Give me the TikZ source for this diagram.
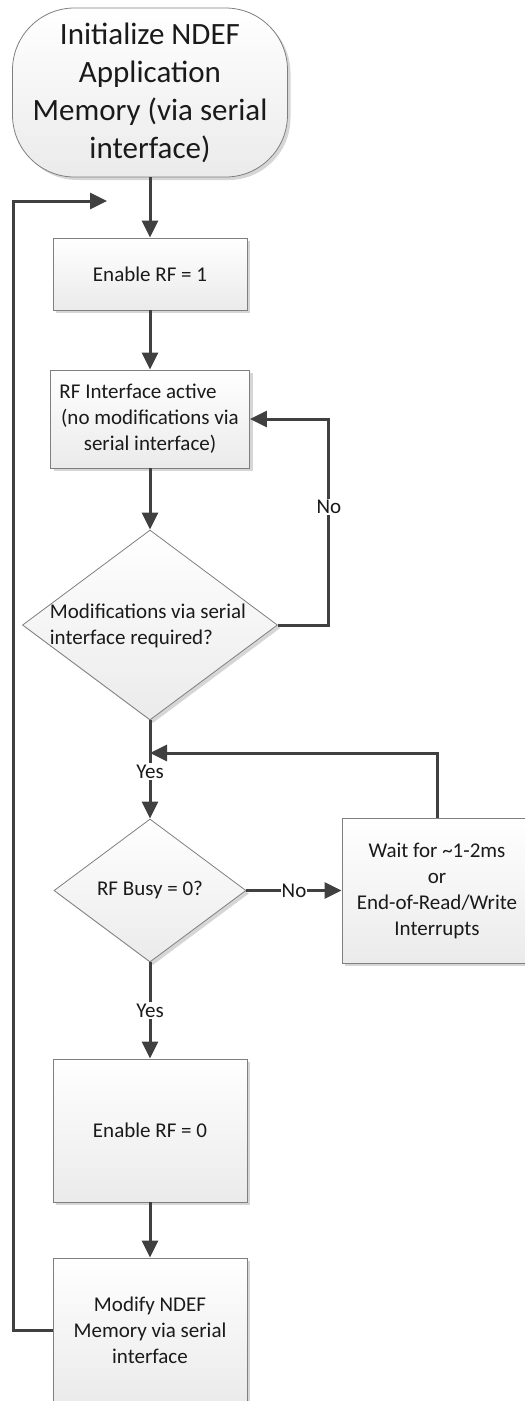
\documentclass[tikz,border=0pt]{standalone}
\usepackage{fontspec}
\setmainfont{Carlito}
\usetikzlibrary{arrows.meta,shapes.geometric,shadows}
\definecolor{linec}{HTML}{404040}
\definecolor{borderc}{HTML}{7F7F7F}
\definecolor{textc}{HTML}{1A1A1A}
\begin{document}
\begin{tikzpicture}[x=1pt,y=-1pt,
  shape base/.style={draw=borderc, line width=0.8pt, top color=white, bottom color=black!8,
    drop shadow={shadow xshift=3pt, shadow yshift=-3pt, fill=black!16, opacity=1},
    inner sep=0pt, text=textc, align=center, font=\fontsize{21}{26}\selectfont},
  procbox/.style={shape base, rectangle},
  termbox/.style={shape base, rectangle, rounded corners=62pt, font=\fontsize{31}{38}\selectfont},
  decision/.style={shape base, diamond},
  lbl/.style={fill=white, inner sep=1.5pt, text=textc, font=\fontsize{21}{26}\selectfont},
  dtext/.style={text=textc, align=left, font=\fontsize{21}{26}\selectfont, inner sep=0pt},
  arr/.style={draw=linec, line width=3pt, -{Triangle[length=17pt,width=16pt]}},
  plain/.style={draw=linec, line width=3pt}
]
\useasboundingbox (0,0) rectangle (525,1401);

\node[termbox, minimum width=275pt, minimum height=169pt] (start) at (150,92.5)
  {Initialize NDEF\\Application\\Memory (via serial\\interface)};
\node[procbox, minimum width=194pt, minimum height=72pt] (en1) at (150,274) {Enable RF = 1};
\node[procbox, minimum width=199pt, minimum height=98pt] (rfi) at (150,419)
  {RF Interface active\hspace*{24pt}\\(no modifications via\\serial interface)};
\node[decision, minimum width=255pt, minimum height=190pt] (d1) at (150,625) {};
\node[dtext] (d1t) at (148,625.5) {Modifications via serial\\interface required?};
\node[decision, minimum width=192pt, minimum height=143pt] (d2) at (150,890.5) {RF Busy = 0?};
\node[procbox, minimum width=190pt, minimum height=145pt] (wait) at (437,890.5)
  {Wait for \textasciitilde 1-2ms\\or\\End-of-Read/Write\\Interrupts};
\node[procbox, minimum width=194pt, minimum height=143pt] (en0) at (150,1130.5) {Enable RF = 0};
\node[procbox, minimum width=194pt, minimum height=144pt] (mod) at (150,1330)
  {Modify NDEF\\Memory via serial\\interface};

\coordinate (loopend) at (107,201);
\coordinate (join) at (150,753);

\draw[arr] (start.south) -- (en1.north);
\draw[arr] (en1.south) -- (rfi.north);
\draw[arr] (rfi.south) -- (d1.north);
\draw[arr] (d1.east) -- ++(51,0) |- node[lbl, pos=0.286] {No} (rfi.east);
\draw[arr] (d1.south) -- node[lbl, pos=0.52] {Yes} (d2.north);
\draw[arr] (d2.east) -- node[lbl, inner sep=0.5pt] {No} (wait.west);
\draw[arr] (wait.north) |- (join);
\draw[arr] (d2.south) -- node[lbl] {Yes} (en0.north);
\draw[arr] (en0.south) -- (mod.north);
\draw[arr] (mod.west) -- ++(-39,0) |- (loopend);
\end{tikzpicture}
\end{document}
